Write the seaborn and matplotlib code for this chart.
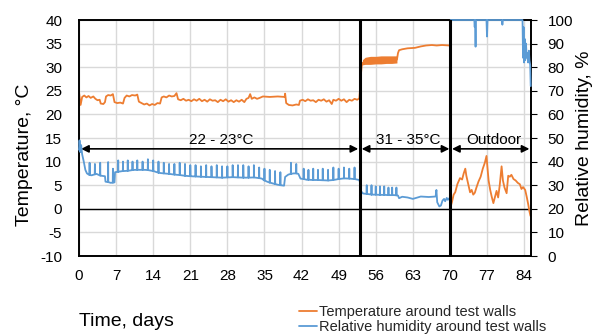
import numpy as np
import pandas as pd
import matplotlib
matplotlib.use("Agg")
import matplotlib.pyplot as plt
from matplotlib.lines import Line2D
import seaborn as sns

# ---------------- data ----------------
x_ticks = [0, 7, 14, 21, 28, 35, 42, 49, 56, 63, 70, 77, 84]
temp_ticks = [-10, -5, 0, 5, 10, 15, 20, 25, 30, 35, 40]
rh_ticks = [0, 10, 20, 30, 40, 50, 60, 70, 80, 90, 100]
period_bounds = [53, 70]
period_labels = ["22 - 23°C", "31 - 35°C", "Outdoor"]
period_arrow_from = [0.4, 53.35, 70.4]
period_arrow_to = [52.7, 69.9, 85.0]
period_text_x = [26.8, 62.1, 78.2]

# temperature, indoor periods (days 0-70)
temp_days_in = [0.0, 0.3, 0.6, 1.0, 1.4, 1.8, 2.2, 2.7, 3.1, 3.5, 3.9, 4.1, 4.6, 4.9, 5.1, 5.5, 6.0, 6.4, 6.7, 7.2,
                7.8, 8.3, 8.6, 9.0, 9.5, 10.0, 10.6, 11.0, 11.3, 11.8, 12.3, 12.8, 13.3, 13.8, 14.3, 14.8, 15.3, 15.6,
                16.0, 16.5, 17.0, 17.5, 18.0, 18.4, 18.7, 19.2, 19.7, 20.2, 20.7, 21.2, 21.7, 22.2, 22.7, 23.2, 23.7,
                24.2, 24.7, 25.2, 25.7, 26.2, 26.7, 27.2, 27.7, 28.2, 28.7, 29.2, 29.7, 30.2, 30.7, 31.2, 31.6, 32.0,
                32.3, 32.6, 33.1, 33.6, 34.1, 34.7, 36.0, 37.5, 38.8, 38.9, 39.1, 39.6, 40.3, 41.0, 41.5, 41.7, 42.2,
                42.7, 43.2, 43.7, 44.2, 44.7, 45.2, 45.7, 46.2, 46.7, 47.2, 47.7, 48.0, 48.5, 49.0, 49.5, 50.0, 50.5,
                51.0, 51.5, 52.0, 52.5, 52.9, 53.05, 53.2, 53.35, 53.5, 54.5, 56.0, 57.5, 59.0, 60.0, 60.2, 60.4,
                61.0, 62.0, 63.4, 64.5, 65.5, 66.6, 67.5, 68.5, 69.9]
temp_vals_in = [24.8, 22.0, 23.7, 24.0, 23.6, 23.9, 23.5, 23.8, 23.3, 23.0, 23.1, 22.3, 22.2, 22.6, 23.8, 24.1, 24.0,
                24.3, 22.6, 22.4, 22.5, 22.3, 23.5, 24.0, 23.8, 24.1, 24.0, 24.2, 22.7, 22.4, 22.1, 22.3, 21.9, 22.2,
                22.0, 22.4, 22.3, 23.6, 23.8, 23.6, 24.0, 23.8, 23.9, 24.5, 23.2, 23.0, 23.3, 22.9, 23.1, 22.8, 23.2,
                22.9, 23.3, 22.8, 23.1, 22.7, 23.2, 22.9, 23.0, 22.6, 23.1, 22.8, 23.2, 22.7, 23.0, 22.6, 23.0, 22.7,
                23.1, 22.6, 23.3, 23.5, 24.3, 23.3, 23.6, 23.3, 23.5, 23.8, 23.7, 23.8, 23.7, 24.4, 22.4, 22.0, 21.9,
                22.1, 22.0, 22.9, 23.1, 22.8, 23.2, 22.9, 23.0, 22.6, 23.1, 22.9, 23.2, 22.7, 23.0, 22.2, 23.1, 22.9,
                23.3, 22.9, 23.2, 22.6, 23.1, 22.9, 23.3, 23.1, 23.4, 25.5, 28.5, 30.2, 30.9, 31.5, 31.4, 31.6, 31.5,
                31.6, 33.0, 33.6, 33.8, 34.0, 34.1, 34.4, 34.6, 34.7, 34.6, 34.7, 34.6]
# fluctuating band of the 31-35 °C period
band_days = [53.5, 54.0, 55.0, 56.0, 57.0, 58.0, 59.0, 60.0]
band_low = [30.5, 30.6, 30.6, 30.7, 30.7, 30.8, 30.8, 30.9]
band_high = [31.6, 32.1, 32.3, 32.3, 32.4, 32.4, 32.4, 32.4]

# temperature, outdoor period
temp_days_out = [70.05, 70.4, 70.7, 71.0, 71.4, 71.9, 72.3, 72.6, 72.9, 73.1, 73.4, 73.8, 74.1, 74.4, 74.7, 75.0,
                 75.4, 75.8, 76.2, 76.6, 76.9, 77.1, 77.3, 77.6, 77.9, 78.2, 78.5, 78.8, 79.1, 79.4, 79.75, 80.0,
                 80.3, 80.7, 81.0, 81.3, 81.6, 82.0, 82.4, 82.8, 83.2, 83.5, 83.8, 84.2, 84.5, 84.8, 85.0, 85.2]
temp_vals_out = [0.1, 1.5, 3.0, 3.5, 5.2, 6.5, 6.2, 7.5, 8.5, 7.0, 5.5, 3.5, 4.0, 3.0, 3.4, 4.5, 5.8, 6.8, 8.5, 9.8,
                 11.2, 8.5, 6.0, 4.0, 2.5, 1.2, 2.5, 3.8, 2.4, 5.0, 9.0, 6.0, 4.5, 3.3, 7.0, 6.8, 7.2, 6.3, 6.0, 5.5,
                 5.2, 4.2, 4.6, 4.0, 2.5, 0.8, -0.5, -1.5]

# relative humidity, indoor periods (baseline)
rh_days_in = [0.0, 0.1, 0.25, 0.4, 0.6, 0.9, 1.2, 1.5, 2.4, 3.3, 4.2, 4.9, 5.0, 6.0, 6.7, 6.8, 8.5, 10.5, 12.5,
              14.0, 15.2, 17.0, 19.0, 21.0, 23.0, 25.0, 27.0, 29.0, 31.0, 33.0, 34.5, 35.5, 36.5, 37.5, 38.7, 38.9,
              39.5, 40.5, 41.4, 41.8, 43.0, 45.0, 47.0, 48.5, 50.0, 51.5, 52.9, 53.05, 53.2, 53.6, 55.0, 57.0,
              59.5, 60.2, 60.4, 61.0, 62.0, 63.0, 63.6, 64.5, 66.0, 67.3, 67.45, 67.6, 68.0, 68.3, 68.6, 68.9,
              69.1, 69.4, 69.6, 69.9]
rh_vals_in = [45, 49, 44, 47, 43, 40, 36.5, 35, 34.2, 34.8, 34.0, 33.8, 31.5, 31.0, 31.2, 35.5, 36.0, 36.5, 36.5,
              36.0, 35.2, 34.8, 34.3, 33.8, 33.6, 33.4, 33.2, 33.4, 33.2, 33.3, 32.8, 31.5, 30.8, 30.2, 29.8, 33.5,
              34.5, 35.0, 34.8, 32.8, 32.3, 32.2, 32.0, 32.4, 32.9, 32.7, 32.2, 31.0, 27.5, 26.5, 26.1, 25.9,
              25.8, 25.6, 24.5, 25.1, 24.8, 24.2, 24.6, 25.2, 25.0, 25.2, 28.0, 22.8, 21.0, 21.4, 23.5, 24.2,
              23.2, 24.6, 23.8, 24.5]
# daily short humidity peaks: day, level before/after, peak level
spike_days = [2.0, 3.0, 4.0, 5.5, 6.4, 7.4, 8.3, 9.2, 10.1, 11.0, 12.0, 13.0, 14.0, 15.0, 16.0, 17.0, 18.0, 19.0,
              20.0, 21.0, 22.0, 23.0, 24.0, 25.0, 26.0, 27.0, 28.0, 29.0, 30.0, 31.0, 32.0, 33.0, 34.0, 35.0, 36.0,
              37.0, 38.0, 40.0, 41.0, 42.4, 43.3, 44.2, 45.1, 46.0, 47.0, 48.0, 49.0, 50.0, 51.0, 52.0,
              54.3, 55.2, 56.0, 56.8, 57.6, 58.4, 59.1, 59.9]
spike_base = [34.3, 34.6, 34.1, 31.3, 31.1, 35.7, 36.0, 36.1, 36.4, 36.5, 36.5, 36.4, 36.0, 35.3, 35.0, 34.8, 34.5,
              34.3, 34.0, 33.8, 33.7, 33.6, 33.5, 33.4, 33.3, 33.2, 33.3, 33.4, 33.3, 33.2, 33.2, 33.3, 33.0, 32.0,
              31.1, 30.5, 30.0, 34.8, 35.0, 32.6, 32.3, 32.2, 32.2, 32.1, 32.0, 32.2, 32.6, 32.9, 32.8, 32.6,
              26.3, 26.0, 26.0, 25.9, 25.9, 25.8, 25.8, 25.7]
spike_top = [39.5, 39.0, 39.5, 39.8, 37.0, 40.5, 40.0, 40.5, 40.0, 40.5, 40.0, 41.0, 40.5, 40.0, 39.5, 39.0, 39.0,
             39.5, 39.0, 38.5, 38.5, 38.0, 38.5, 38.0, 38.5, 38.0, 38.0, 38.5, 38.5, 38.5, 38.0, 38.5, 37.5, 37.0,
             36.5, 36.0, 35.5, 39.5, 39.0, 37.0, 36.5, 37.0, 36.5, 37.0, 36.5, 37.5, 37.0, 37.5, 37.0, 37.5,
             30.0, 30.0, 29.5, 29.5, 29.5, 29.0, 29.0, 29.0]

# relative humidity, outdoor period
rh_days_out = [70.05, 70.15, 74.6, 74.68, 74.74, 74.84, 74.92, 76.9, 77.0, 77.1, 79.8, 79.9, 80.0, 83.7, 83.8, 83.9,
               84.0, 84.1, 84.2, 84.35, 84.5, 84.6, 84.75, 84.9, 85.0, 85.15, 85.25]
rh_vals_out = [76, 100, 100, 97, 100, 88.7, 100, 100, 93, 100, 100, 98, 100, 100, 84, 97, 82, 92, 83, 90, 84, 86,
               82, 87, 83, 81, 72]

ORANGE = "#ED7D31"
BLUE = "#5B9BD5"

# ---------------- frames ----------------
temp_df = pd.concat([
    pd.DataFrame({"day": temp_days_in, "value": temp_vals_in, "seg": 0}),
    pd.DataFrame({"day": temp_days_out, "value": temp_vals_out, "seg": 1}),
], ignore_index=True)

sp_d, sp_v = [], []
for d, b, t in zip(spike_days, spike_base, spike_top):
    sp_d += [d - 0.03, d, d + 0.03]
    sp_v += [b, t, b]
rh_in = pd.DataFrame({"day": rh_days_in + sp_d, "value": rh_vals_in + sp_v, "seg": 0})
rh_in = rh_in.sort_values("day", kind="stable")
rh_df = pd.concat([
    rh_in,
    pd.DataFrame({"day": rh_days_out, "value": rh_vals_out, "seg": 1}),
], ignore_index=True)

# ---------------- style ----------------
sns.set_theme(style="white")
plt.rcParams["font.family"] = ["Liberation Sans", "DejaVu Sans"]
plt.rcParams["axes.unicode_minus"] = False

fig = plt.figure(figsize=(5.95, 3.35), dpi=100)
ax = fig.add_axes([79 / 595, 1 - 256 / 335, (531 - 79) / 595, (256 - 20) / 335])
ax2 = ax.twinx()

sns.lineplot(data=temp_df, x="day", y="value", units="seg", estimator=None, sort=False,
             color=ORANGE, lw=1.3, ax=ax, legend=False)
ax.fill_between(band_days, band_low, band_high, color=ORANGE, lw=0, zorder=2)
sns.lineplot(data=rh_df, x="day", y="value", units="seg", estimator=None, sort=False,
             color=BLUE, lw=1.3, ax=ax2, legend=False)
for ln in ax2.get_lines():
    ln.set_clip_on(False)
    ln.set_zorder(3)

ax.set_xlim(0, 85.3)
ax.set_ylim(-10, 40)
ax2.set_ylim(0, 100)
ax.set_xticks(x_ticks)
ax.set_yticks(temp_ticks)
ax2.set_yticks(rh_ticks)
ax.set_xticklabels([str(t) for t in x_ticks])
ax.set_yticklabels([str(t) for t in temp_ticks])
ax2.set_yticklabels([str(t) for t in rh_ticks])

ax.set_axisbelow(True)
ax.grid(True, color="#D9D9D9", lw=1.0)
ax2.grid(False)

ax.axhline(0, color="black", lw=1.0, zorder=1.5)
for b in period_bounds:
    ax2.axvline(b, color="black", lw=2.2, zorder=5)

for spine in list(ax.spines.values()) + list(ax2.spines.values()):
    spine.set_color("black")
    spine.set_linewidth(1.2)

ax.tick_params(axis="y", length=0, pad=12, labelsize=11, colors="black")
ax.tick_params(axis="x", length=0, pad=9, labelsize=11, colors="black")
ax2.tick_params(axis="y", length=4, width=0.8, direction="out", pad=8, labelsize=11, colors="black")

ax.set_xlabel("")
ax.set_ylabel("Temperature, °C", fontsize=14, color="black")
ax.yaxis.set_label_coords(-0.102, 0.43)
ax2.set_ylabel("Relative humidity, %", fontsize=14, color="black")
ax2.yaxis.set_label_coords(1.10, 0.5)

for x0, x1, tx, lab in zip(period_arrow_from, period_arrow_to, period_text_x, period_labels):
    ax.annotate("", xy=(x0, 12.7), xytext=(x1, 12.7),
                arrowprops=dict(arrowstyle="<|-|>", color="black", lw=1.2,
                                shrinkA=0, shrinkB=0, mutation_scale=11))
    ax.text(tx, 14.6, lab, ha="center", va="center", fontsize=11, color="black")

fig.text(79 / 595, 1 - 322 / 335, "Time, days", ha="left", va="center", fontsize=14, color="black")

handles = [Line2D([], [], color=ORANGE, lw=1.3), Line2D([], [], color=BLUE, lw=1.3)]
fig.legend(handles, ["Temperature around test walls", "Relative humidity around test walls"],
           loc="upper left", bbox_to_anchor=(299 / 595, 1 - 305 / 335), frameon=False,
           handlelength=1.2, handletextpad=0.15, borderpad=0, borderaxespad=0,
           labelspacing=0.1, fontsize=10.5)

fig.savefig("out.png", dpi=100)
